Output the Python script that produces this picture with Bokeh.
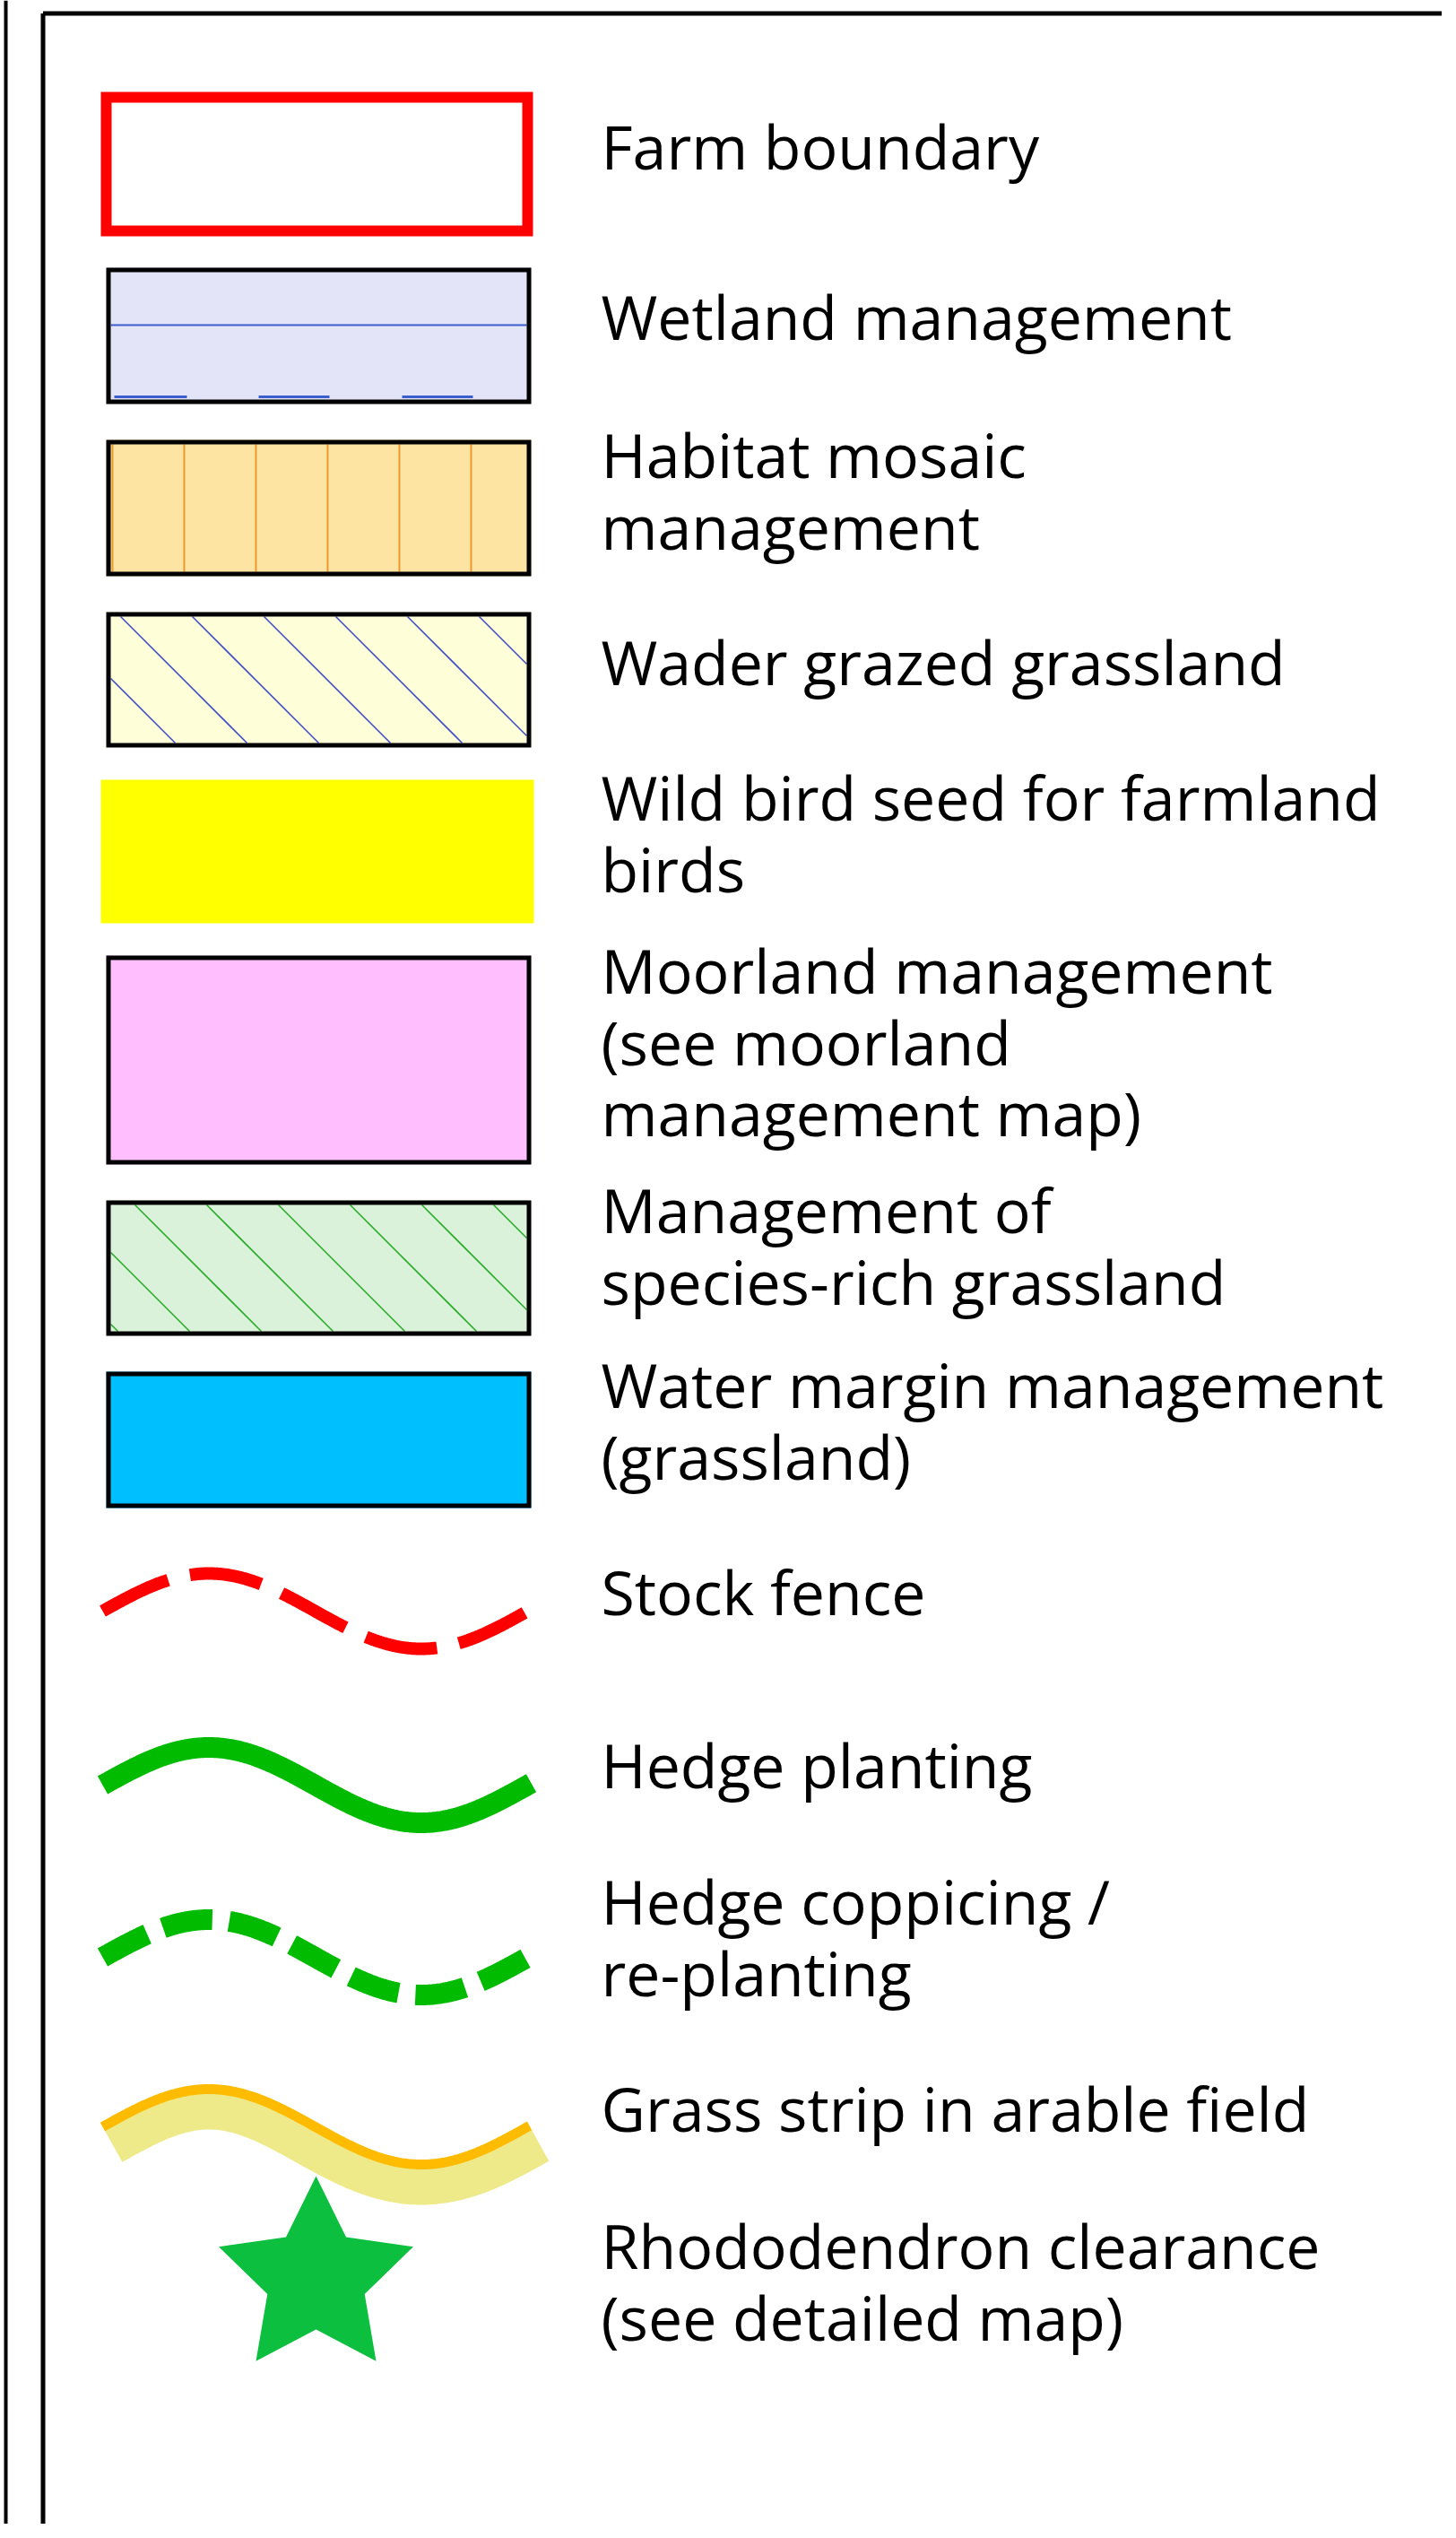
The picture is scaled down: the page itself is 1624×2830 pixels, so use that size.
import numpy as np
from bokeh.plotting import figure
from bokeh.models import Range1d, ColumnDataSource
from bokeh.core.properties import value
from bokeh.embed import file_html
from bokeh.resources import INLINE

# ---------------- legend content ----------------
legend_labels = [
    ["Farm boundary"],
    ["Wetland management"],
    ["Habitat mosaic", "management"],
    ["Wader grazed grassland"],
    ["Wild bird seed for farmland", "birds"],
    ["Moorland management", "(see moorland", "management map)"],
    ["Management of", "species-rich grassland"],
    ["Water margin management", "(grassland)"],
    ["Stock fence"],
    ["Hedge planting"],
    ["Hedge coppicing /", "re-planting"],
    ["Grass strip in arable field"],
    ["Rhododendron clearance", "(see detailed map)"],
]
symbol_kinds = ["outline", "wetland", "vlines", "diag_blue", "plain", "plain_border",
                "diag_green", "plain_border", "dashed_long", "solid", "dashed_short",
                "strip", "star"]
symbol_fills = ["#ffffff", "#e4e4f8", "#fde4a2", "#fefed8", "#ffff00", "#ffbfff",
                "#d9f2d9", "#00bfff", "#ff0000", "#00bb00", "#00bb00", "#ffbb00", "#0dbf3f"]

# ---------------- layout (screen pixels) ----------------
TEXT_X = 670
TEXT_SHIFT = -25
first_baselines = [187, 377, 531, 762, 913, 1106, 1373, 1568, 1799, 1992, 2144, 2375, 2528]
LINE_STEP = 79.5
rect_boxes = {  # left, right, top, bottom (outer edges)
    0: (112, 594, 102, 263),
    1: (118, 592, 298, 450),
    2: (118, 592, 490, 642),
    3: (118, 592, 682, 833),
    4: (112, 595, 869, 1029),
    5: (118, 592, 1065, 1298),
    6: (118, 592, 1338, 1489),
    7: (118, 592, 1529, 1681),
}
wave_mid = {8: 1796, 9: 1990, 10: 2182, 11: 2371}
WAVE_X0, WAVE_X1, WAVE_A, WAVE_P = 114, 590, 42, 474

W, H = 1608, 2814
p = figure(width=W, height=H, x_range=Range1d(0, W), y_range=Range1d(H, 0),
           output_backend="svg", toolbar_location=None, min_border=0,
           x_axis_location=None, y_axis_location=None)
p.grid.visible = False
p.outline_line_color = None
p.background_fill_color = "white"
p.border_fill_color = "white"

# frame lines
p.segment(x0=[6, 47.5, 47.5], y0=[0, 14.5, 14.5], x1=[6, 47.5, 1640], y1=[2840, 2840, 14.5],
          line_color="black", line_width=[4, 5, 5])


def clip_diag(l, r, t, b, spacing, first_top_x):
    xs0, ys0, xs1, ys1 = [], [], [], []
    c0 = first_top_x - t
    cs = [c0 + k * spacing for k in range(-12, 12)]
    for c in cs:
        xa = max(l, t + c)
        xb = min(r, b + c)
        if xb - xa > 1:
            xs0.append(xa); ys0.append(xa - c); xs1.append(xb); ys1.append(xb - c)
    return xs0, ys0, xs1, ys1


def wave(mid, x0=WAVE_X0, x1=WAVE_X1):
    xs = np.linspace(x0, x1, 300)
    ys = mid - WAVE_A * np.sin(2 * np.pi * (xs - x0) / WAVE_P)
    return xs, ys


for i, kind in enumerate(symbol_kinds):
    col = symbol_fills[i]
    if i in rect_boxes:
        l, r, t, b = rect_boxes[i]
        if kind == "outline":
            lw = 12
            p.quad(left=[l + lw / 2], right=[r - lw / 2], top=[t + lw / 2], bottom=[b - lw / 2],
                   fill_color=None, line_color="#ff0000", line_width=lw, line_join="miter")
            continue
        if kind == "plain":
            p.quad(left=[l], right=[r], top=[t], bottom=[b], fill_color=col, line_color=None)
            continue
        lw = 5
        il, ir, it, ib = l + lw, r - lw, t + lw, b - lw
        p.quad(left=[l], right=[r], top=[t], bottom=[b], fill_color=col, line_color=None)
        if kind == "wetland":
            p.segment(x0=[il], y0=[362], x1=[ir], y1=[362], line_color="#3a5fcd", line_width=2)
            p.segment(x0=[127, 288, 448], y0=[442] * 3, x1=[208, 367, 527], y1=[442] * 3,
                      line_color="#3a5fcd", line_width=3)
        elif kind == "vlines":
            xs = [il + 2 + 80 * k for k in range(6)]
            p.segment(x0=xs, y0=[it] * 6, x1=xs, y1=[ib] * 6, line_color="#ee9a2a", line_width=2)
        elif kind == "diag_blue":
            a, bb, c, d = clip_diag(il, ir, it, ib, 80, 134)
            p.segment(x0=a, y0=bb, x1=c, y1=d, line_color="#3f4fc4", line_width=1.6)
        elif kind == "diag_green":
            a, bb, c, d = clip_diag(il, ir, it, ib, 80, 150)
            p.segment(x0=a, y0=bb, x1=c, y1=d, line_color="#2aab2a", line_width=1.6)
        p.quad(left=[l + lw / 2], right=[r - lw / 2], top=[t + lw / 2], bottom=[b - lw / 2],
               fill_color=None, line_color="black", line_width=lw, line_join="miter")
    elif kind == "dashed_long":
        xs, ys = wave(wave_mid[i], 114, 586)
        p.line(xs, ys, line_color=col, line_width=14, line_dash="81 25", line_cap="butt")
    elif kind == "solid":
        xs, ys = wave(wave_mid[i], 114, 592)
        p.line(xs, ys, line_color=col, line_width=23, line_cap="butt")
    elif kind == "dashed_short":
        xs, ys = wave(wave_mid[i], 114, 592)
        p.line(xs, ys, line_color=col, line_width=23, line_dash="56 19", line_cap="butt")
    elif kind == "strip":
        xs, ys = wave(wave_mid[i], 114, 590)
        dydx = np.gradient(ys, xs)
        nrm = np.sqrt(1 + dydx ** 2)
        nx, ny = -dydx / nrm, 1 / nrm
        off = 21
        p.line(xs + nx * off, ys + ny * off, line_color="#eeea8a", line_width=48, line_cap="butt")
        p.line(xs, ys, line_color=col, line_width=11, line_cap="butt")
    elif kind == "star":
        cx, cy, R, rr = 352, 2540, 114, 57
        angs = -np.pi / 2 + np.arange(10) * np.pi / 5
        rad = np.where(np.arange(10) % 2 == 0, R, rr)
        p.patch(cx + rad * np.cos(angs), cy + rad * np.sin(angs), fill_color=col, line_color=None)

# texts
tx, ty, tt = [], [], []
for lines, b0 in zip(legend_labels, first_baselines):
    for k, s in enumerate(lines):
        tx.append(TEXT_X); ty.append(b0 + TEXT_SHIFT + k * LINE_STEP); tt.append(s)
src = ColumnDataSource(dict(x=tx, y=ty, text=tt))
p.text(x="x", y="y", text="text", source=src, text_font=value("Open Sans"),
       text_font_size="68px", text_baseline="alphabetic", text_align="left", text_color="black")

open("out.html", "w").write(file_html(p, INLINE))
